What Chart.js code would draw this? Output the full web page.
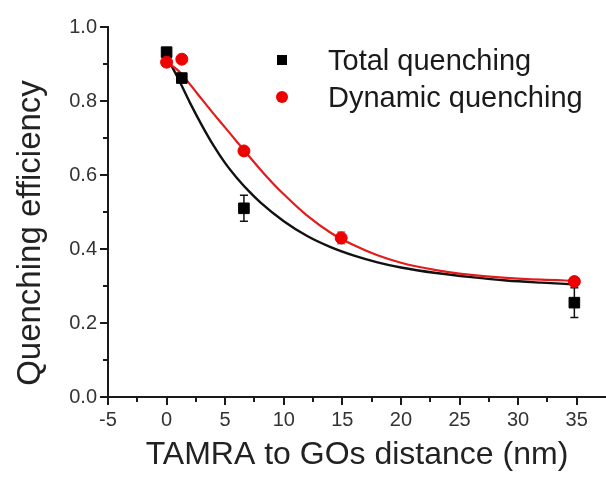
<!DOCTYPE html>
<html>
<head>
<meta charset="utf-8">
<script src="https://cdn.jsdelivr.net/npm/chart.js@4/dist/chart.umd.min.js"></script>
<style>
  html, body { margin: 0; padding: 0; background: #ffffff; }
  #wrap { width: 606px; height: 480px; }
</style>
</head>
<body>
<div id="wrap"><canvas id="c" width="606" height="480"></canvas></div>
<script>
// ---- data ----
const totalLabel = 'Total quenching';
const dynamicLabel = 'Dynamic quenching';
const xTitle = 'TAMRA to GOs distance (nm)';
const yTitle = 'Quenching efficiency';

const totalX   = [0, 1.3, 6.6, 34.8];
const totalY   = [0.932, 0.862, 0.51, 0.255];
const totalErr = [0.01, 0.01, 0.035, 0.04];

const dynamicX   = [0, 1.3, 6.6, 14.9, 34.8];
const dynamicY   = [0.905, 0.913, 0.665, 0.43, 0.312];
const dynamicErr = [0.008, 0.008, 0.01, 0.016, 0.008];

const totalFitX = [0, 1, 2, 3, 4, 5, 6, 7, 8, 10, 12, 14, 16, 18, 20, 23, 26, 29, 32, 35];
const totalFitY = [0.92, 0.86, 0.795, 0.735, 0.68, 0.632, 0.592, 0.557, 0.526, 0.475, 0.435, 0.405, 0.382, 0.364, 0.35, 0.335, 0.324, 0.315, 0.309, 0.304];

const dynamicFitX = [0, 1, 2, 3, 4, 5, 6, 7, 8, 9, 10, 12, 14, 16, 18, 20, 23, 26, 29, 32, 35];
const dynamicFitY = [0.905, 0.882, 0.845, 0.805, 0.766, 0.728, 0.69, 0.652, 0.615, 0.58, 0.548, 0.49, 0.444, 0.41, 0.383, 0.363, 0.343, 0.33, 0.322, 0.317, 0.314];

const xMajorTicks = [-5, 0, 5, 10, 15, 20, 25, 30, 35];
const xMinorTicks = [-2.5, 2.5, 7.5, 12.5, 17.5, 22.5, 27.5, 32.5];
const yMajorTicks = [0, 0.2, 0.4, 0.6, 0.8, 1.0];
const yMinorTicks = [0.1, 0.3, 0.5, 0.7, 0.9];

// ---- helpers ----
const pts = (xs, ys) => xs.map((x, i) => ({ x: x, y: ys[i] }));
const FONT = '"Liberation Sans", Arial, sans-serif';
const AXIS = '#1a1a1a';

const extrasPlugin = {
  id: 'extras',
  beforeDatasetsDraw(chart) {
    const { ctx, scales: { x, y } } = chart;
    ctx.save();
    const bars = [
      { xs: totalX, ys: totalY, es: totalErr, color: '#111111' },
      { xs: dynamicX, ys: dynamicY, es: dynamicErr, color: '#888888' }
    ];
    bars.forEach(b => {
      ctx.strokeStyle = b.color;
      ctx.lineWidth = 1.5;
      b.xs.forEach((xv, i) => {
        const px = x.getPixelForValue(xv);
        const top = y.getPixelForValue(b.ys[i] + b.es[i]);
        const bot = y.getPixelForValue(b.ys[i] - b.es[i]);
        ctx.beginPath();
        ctx.moveTo(px, top); ctx.lineTo(px, bot);
        ctx.moveTo(px - 4, top); ctx.lineTo(px + 4, top);
        ctx.moveTo(px - 4, bot); ctx.lineTo(px + 4, bot);
        ctx.stroke();
      });
    });
    ctx.restore();
  },
  afterDraw(chart) {
    const { ctx, chartArea, scales: { x, y } } = chart;
    ctx.save();
    // minor ticks
    ctx.strokeStyle = AXIS;
    ctx.lineWidth = 2;
    xMinorTicks.forEach(v => {
      const px = Math.round(x.getPixelForValue(v));
      ctx.beginPath();
      ctx.moveTo(px, chartArea.bottom);
      ctx.lineTo(px, chartArea.bottom + 5);
      ctx.stroke();
    });
    yMinorTicks.forEach(v => {
      const py = Math.round(y.getPixelForValue(v));
      ctx.beginPath();
      ctx.moveTo(chartArea.left, py);
      ctx.lineTo(chartArea.left - 5, py);
      ctx.stroke();
    });
    // y title
    ctx.fillStyle = '#222222';
    ctx.font = '33px ' + FONT;
    ctx.textAlign = 'center';
    ctx.textBaseline = 'middle';
    ctx.translate(31, 233);
    ctx.rotate(-Math.PI / 2);
    ctx.fillText(yTitle, 0, 0);
    ctx.restore();

    // legend
    ctx.save();
    ctx.font = '29px ' + FONT;
    ctx.textAlign = 'left';
    ctx.textBaseline = 'middle';
    const lx = 282, ly1 = 60, ly2 = 97, tx = 328;
    ctx.fillStyle = '#000000';
    ctx.fillRect(lx - 5, ly1 - 5, 10, 10);
    ctx.fillStyle = '#ee0000';
    ctx.beginPath();
    ctx.arc(lx, ly2, 6, 0, Math.PI * 2);
    ctx.fill();
    ctx.fillStyle = '#1a1a1a';
    ctx.fillText(totalLabel, tx, ly1 + 2);
    ctx.fillText(dynamicLabel, tx, ly2 + 2);
    ctx.restore();
  }
};

new Chart(document.getElementById('c'), {
  type: 'scatter',
  data: {
    datasets: [
      {
        label: dynamicLabel,
        data: pts(dynamicX, dynamicY),
        backgroundColor: '#ee0000',
        borderColor: '#ee0000',
        pointStyle: 'circle',
        pointRadius: 6,
        showLine: false,
        order: 0
      },
      {
        label: totalLabel,
        data: pts(totalX, totalY),
        backgroundColor: '#000000',
        borderColor: '#000000',
        pointStyle: 'rect',
        pointRadius: 7.5,
        showLine: false,
        order: 1
      },
      {
        label: dynamicLabel + ' fit',
        data: pts(dynamicFitX, dynamicFitY),
        borderColor: '#e31b1b',
        borderWidth: 2.2,
        pointRadius: 0,
        showLine: true,
        cubicInterpolationMode: 'monotone',
        order: 2
      },
      {
        label: totalLabel + ' fit',
        data: pts(totalFitX, totalFitY),
        borderColor: '#111111',
        borderWidth: 2.4,
        pointRadius: 0,
        showLine: true,
        cubicInterpolationMode: 'monotone',
        order: 3
      }
    ]
  },
  options: {
    responsive: false,
    animation: false,
    devicePixelRatio: 1,
    layout: { autoPadding: false, padding: { top: 27, right: 0, left: 0, bottom: 0 } },
    plugins: { legend: { display: false }, tooltip: { enabled: false } },
    scales: {
      x: {
        type: 'linear',
        min: -5,
        max: 37.5,
        afterBuildTicks: s => { s.ticks = xMajorTicks.map(v => ({ value: v })); },
        afterFit: s => { s.height = 83; },
        ticks: {
          font: { family: FONT, size: 20 },
          color: '#333333',
          padding: 3,
          maxRotation: 0,
          callback: v => String(v)
        },
        grid: { drawOnChartArea: false, drawTicks: true, tickLength: 8, color: AXIS, lineWidth: 2 },
        border: { display: true, color: AXIS, width: 2 },
        title: {
          display: true,
          text: xTitle,
          font: { family: FONT, size: 32 },
          color: '#222222',
          padding: { top: 0, bottom: 6 }
        }
      },
      y: {
        type: 'linear',
        min: 0,
        max: 1,
        afterBuildTicks: s => { s.ticks = yMajorTicks.map(v => ({ value: v })); },
        afterFit: s => { s.width = 108; },
        ticks: {
          font: { family: FONT, size: 20 },
          color: '#333333',
          padding: 3,
          callback: v => Number(v).toFixed(1)
        },
        grid: { drawOnChartArea: false, drawTicks: true, tickLength: 8, color: AXIS, lineWidth: 2 },
        border: { display: true, color: AXIS, width: 2 }
      }
    }
  },
  plugins: [extrasPlugin]
});
</script>
</body>
</html>
